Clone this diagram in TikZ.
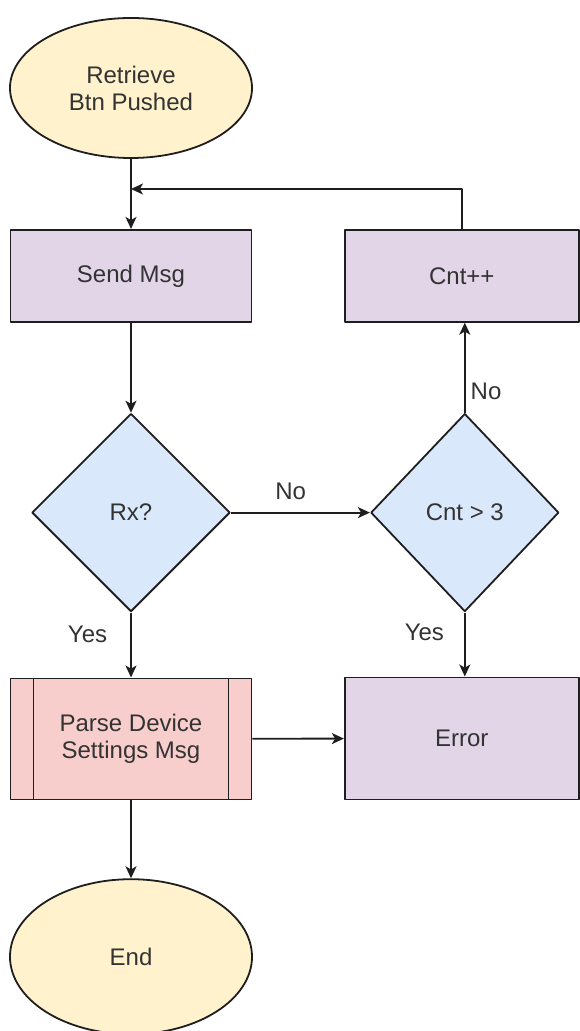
\documentclass[tikz,border=0pt]{standalone}
\usepackage{fontspec}
\setmainfont{Liberation Sans}
\usepackage{xcolor}
\usepackage{tikz}
\usetikzlibrary{arrows.meta,positioning,calc,shapes.geometric}
\definecolor{ink}{HTML}{1E1E1E}
\definecolor{txt}{HTML}{333333}
\definecolor{softyellow}{HTML}{FFF2CC}
\definecolor{softpurple}{HTML}{E1D5E7}
\definecolor{softblue}{HTML}{DAE8FC}
\definecolor{softred}{HTML}{F8CECC}
\tikzset{
    every picture/.style={line join=round},
    terminal/.style={ellipse,draw=ink,fill=softyellow,line width=0.9pt,
      minimum width=121pt,minimum height=77.5pt,inner sep=0pt,
      text=txt,align=center},
    stepbox/.style={rectangle,draw=ink,fill=softpurple,line width=0.9pt,
      minimum width=120.5pt,minimum height=46pt,inner sep=2pt,
      text=txt,align=center},
    decision/.style={diamond,draw=ink,fill=softblue,line width=0.9pt,
      minimum width=99pt,minimum height=99pt,inner sep=0pt,
      text=txt,align=center},
    subproc/.style={stepbox,fill=softred,minimum height=60.5pt},
    flowarrow/.style={-{Stealth[length=6pt,width=5.5pt,inset=1.6pt]},draw=ink,
      line width=0.9pt},
    edgelabel/.style={text=txt,inner sep=2pt}
}

\begin{document}
\begin{tikzpicture}[font=\fontsize{12}{13.5}\selectfont]
  \useasboundingbox (-65.5pt,44pt) rectangle (224pt,-471.5pt);
  % left column
  \node[terminal,minimum height=70pt] (start) {Retrieve\\Btn Pushed};
  \node[stepbox,below=35pt of start] (send) {Send Msg};
  \node[decision,below=45pt of send] (rx) {Rx?};
  \node[subproc,below=32.5pt of rx] (parse) {Parse Device\\Settings Msg};
  \node[terminal,below=39pt of parse] (end) {End};
  % right column
  \node[decision,right=69.5pt of rx,minimum width=94pt] (cnt) {Cnt > 3};
  \node[stepbox,above=45pt of cnt,xshift=-1.5pt,minimum width=117pt] (inc) {Cnt++};
  \node[stepbox,below=32pt of cnt,xshift=-1.5pt,minimum width=117pt,minimum height=61pt] (err) {Error};
  \draw[ink,line width=0.9pt]
    ([xshift=12pt]parse.north west) -- ([xshift=12pt]parse.south west)
    ([xshift=-12pt]parse.north east) -- ([xshift=-12pt]parse.south east);
  \coordinate (merge) at ($(start.south)!0.43!(send.north)$);
  \draw[flowarrow] (start) -- (send);
  \draw[flowarrow] (send) -- (rx);
  \draw[flowarrow] (rx) -- node[edgelabel,pos=0.34,left=9.5pt]{Yes} (parse);
  \draw[flowarrow] (parse) -- (end);
  \draw[flowarrow] (rx) -- node[edgelabel,pos=0.43,above=4pt]{No} (cnt);
  \draw[flowarrow] (cnt) -- node[edgelabel,pos=0.24,right=0.5pt]{No} (cnt.north|-inc.south);
  \draw[flowarrow] (cnt) -- node[edgelabel,pos=0.31,left=8pt]{Yes} (cnt.south|-err.north);
  \draw[flowarrow] (parse) -- (err);
  \draw[flowarrow] (inc.north) |- (merge);
\end{tikzpicture}
\end{document}
